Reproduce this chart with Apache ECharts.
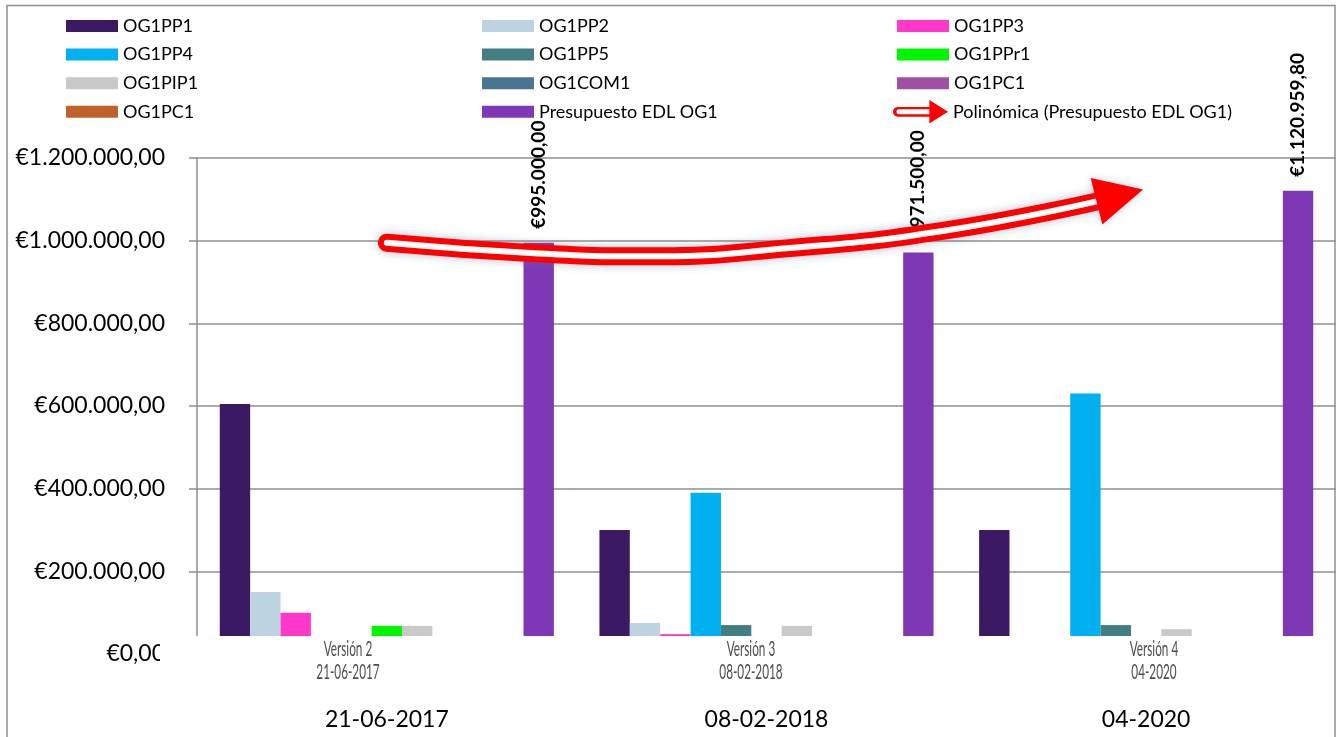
<!DOCTYPE html>
<html>
<head>
<meta charset="utf-8">
<script src="https://cdn.jsdelivr.net/npm/echarts@6/dist/echarts.min.js"></script>
<style>
  html, body { margin: 0; padding: 0; background: #fff; }
  #main { width: 1337px; height: 737px; }
</style>
</head>
<body>
<div id="main"></div>
<script>
// datos
var fechas = ['21-06-2017', '08-02-2018', '04-2020'];
var versiones = ['Versión 2\n21-06-2017', 'Versión 3\n08-02-2018', 'Versión 4\n04-2020'];
var og1pp1 = [605000, 300000, 300000];
var og1pp2 = [150000, 75000, 0];
var og1pp3 = [100000, 48000, 0];
var og1pp4 = [0, 390000, 630000];
var og1pp5 = [0, 70000, 70000];
var og1ppr1 = [68000, 0, 0];
var og1pip1 = [68000, 68000, 60000];
var og1com1 = [0, 0, 0];
var og1pc1a = [0, 0, 0];
var og1pc1b = [0, 0, 0];
var presupuesto = [995000, 971500, 1120959.8];
// linea de tendencia (flecha): posicion en categorias / valor
var tendPos = [0, 0.4, 0.69, 1.06, 1.46, 1.87];
var tendVal = [995000, 969000, 962000, 982000, 1023000, 1095000];
var yMin = 0, yMax = 1200000, yStep = 200000;

var FONT = 'Lato';

function euro(v) {
  var p = Number(v).toFixed(2).split('.');
  return '€' + p[0].replace(/\B(?=(\d{3})+(?!\d))/g, '.') + ',' + p[1];
}

var barras = [
  ['OG1PP1', og1pp1, '#3b1a63'],
  ['OG1PP2', og1pp2, '#bdd3e2'],
  ['OG1PP3', og1pp3, '#ff38cb'],
  ['OG1PP4', og1pp4, '#00b0f0'],
  ['OG1PP5', og1pp5, '#437e83'],
  ['OG1PPr1', og1ppr1, '#00f500'],
  ['OG1PIP1', og1pip1, '#c9c9c9'],
  ['OG1COM1', og1com1, '#4a7694'],
  ['OG1PC1', og1pc1a, '#a04fa3'],
  ['OG1PC1 ', og1pc1b, '#c0622c'],
  ['Presupuesto EDL OG1', presupuesto, '#7f38b5']
];

var series = barras.map(function (b) {
  var s = {
    name: b[0],
    type: 'bar',
    data: b[1],
    barGap: '0%',
    barCategoryGap: '12%',
    itemStyle: { color: b[2] },
    z: 2
  };
  if (b[0] === 'Presupuesto EDL OG1') {
    s.label = {
      show: true,
      position: 'top',
      rotate: 90,
      align: 'left',
      verticalAlign: 'middle',
      distance: 14,
      color: '#000',
      fontFamily: FONT,
      fontWeight: 'bold',
      fontSize: 19,
      formatter: function (p) { return euro(p.value); }
    };
  }
  return s;
});

var tendRoja = tendPos.map(function (x, i) { return [x, tendVal[i]]; });
var tendBlanca = tendPos.map(function (x, i) {
  if (i === tendPos.length - 1) {
    return {
      value: [x, tendVal[i]],
      symbol: 'triangle',
      symbolSize: [48, 48],
      symbolRotate: -76,
      symbolOffset: [23, -6],
      itemStyle: { color: '#ff0000', shadowBlur: 8, shadowColor: 'rgba(80,120,160,0.35)' }
    };
  }
  return [x, tendVal[i]];
});

series.push({
  name: 'Polinómica (Presupuesto EDL OG1)',
  type: 'line',
  xAxisIndex: 1,
  data: tendRoja,
  smooth: 0.5,
  symbol: 'none',
  silent: true,
  itemStyle: { color: '#ff0000' },
  lineStyle: { color: '#ff0000', width: 18, cap: 'round', shadowBlur: 10, shadowColor: 'rgba(80,120,160,0.45)' },
  z: 5
});
series.push({
  name: 'interior',
  type: 'line',
  xAxisIndex: 1,
  data: tendBlanca,
  smooth: 0.5,
  symbol: 'none',
  silent: true,
  itemStyle: { color: '#ff0000' },
  lineStyle: { color: '#ffffff', width: 6, cap: 'round' },
  z: 6
});

var legendText = { color: '#000', fontFamily: FONT, fontSize: 18, lineHeight: 20 };
var flecha = 'path://M4,7 L36,7 L36,0 L55,12 L36,24 L36,17 L4,17 A5,5 0 0 1 4,7 Z M36,9.5 L5,9.5 A2.5,2.5 0 0 0 5,14.5 L36,14.5 Z';

function leyenda(left, top, names) {
  return {
    orient: 'vertical',
    left: left,
    top: top,
    icon: 'rect',
    itemWidth: 52,
    itemHeight: 12,
    itemGap: 8.6,
    padding: 0,
    textStyle: legendText,
    data: names
  };
}

var legends = [
  leyenda(66, 16, ['OG1PP1', 'OG1PP4', 'OG1PIP1', 'OG1PC1 ']),
  leyenda(482, 16, ['OG1PP2', 'OG1PP5', 'OG1COM1', 'Presupuesto EDL OG1']),
  leyenda(897, 16, ['OG1PP3', 'OG1PPr1', 'OG1PC1']),
  {
    orient: 'vertical',
    left: 893,
    top: 100,
    itemWidth: 55,
    itemHeight: 24,
    padding: 0,
    textStyle: legendText,
    data: [{
      name: 'Polinómica (Presupuesto EDL OG1)',
      icon: flecha,
      itemStyle: { color: '#ff0000', borderWidth: 0, shadowBlur: 0 }
    }]
  }
];

var graphics = [{
  type: 'rect',
  shape: { x: 160, y: 636, width: 1177, height: 62 },
  style: { fill: '#ffffff' },
  z: 40
}];
var versionX = [348, 751, 1154];
versiones.forEach(function (t, i) {
  graphics.push({
    type: 'text',
    x: versionX[i],
    y: 661,
    scaleX: 0.56,
    style: {
      text: t,
      fontFamily: FONT,
      fontSize: 21,
      lineHeight: 23,
      fill: '#4e4e4e',
      align: 'center',
      verticalAlign: 'middle'
    },
    z: 41
  });
});
graphics.push({
  type: 'rect',
  shape: { x: 7, y: 5.5, width: 1328, height: 800 },
  style: { fill: 'none', stroke: '#8f8f8f', lineWidth: 1.5 },
  z: 50
});

var chart = echarts.init(document.getElementById('main'));
chart.setOption({
  animation: false,
  backgroundColor: '#fff',
  legend: legends,
  grid: { left: 197, right: 1, top: 158, bottom: 83 },
  xAxis: [{
    type: 'category',
    data: fechas,
    axisLine: { show: false },
    axisTick: { show: false },
    splitLine: { show: false },
    axisLabel: { color: '#000', fontFamily: FONT, fontSize: 23, margin: 54 }
  }, {
    type: 'value',
    min: -0.5,
    max: 2.5,
    show: false,
    splitLine: { show: false },
    axisLine: { show: false, onZero: false },
    axisTick: { show: false },
    axisLabel: { show: false }
  }],
  yAxis: {
    type: 'value',
    min: yMin,
    max: yMax,
    interval: yStep,
    axisLine: { show: true, onZero: false, lineStyle: { color: '#8f8f8f', width: 1.5 } },
    axisTick: { show: true, length: 8, lineStyle: { color: '#8f8f8f', width: 1.5 } },
    splitLine: { show: true, lineStyle: { color: '#8f8f8f', width: 1.5 } },
    axisLabel: { color: '#000', fontFamily: FONT, fontSize: 23, margin: 32, formatter: euro }
  },
  graphic: graphics,
  series: series
});
</script>
</body>
</html>
